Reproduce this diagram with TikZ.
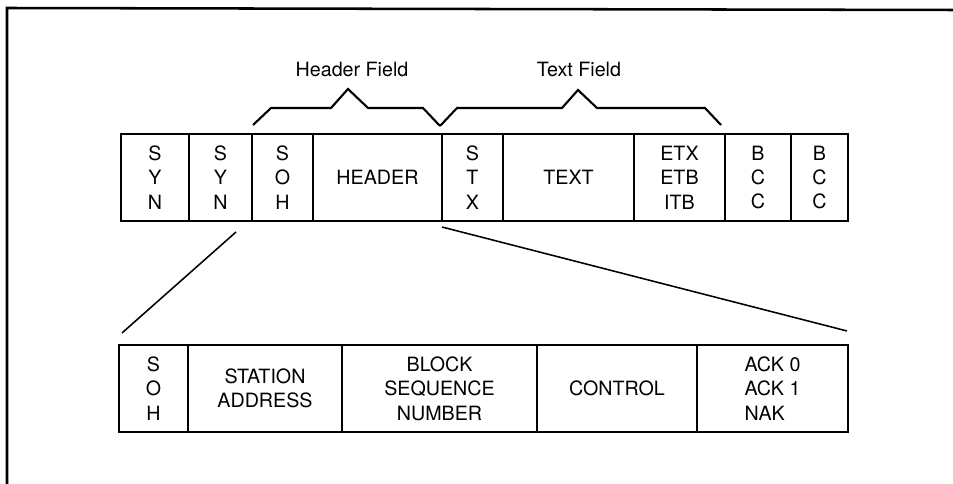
\documentclass[tikz,border=0pt]{standalone}
\usepackage{fontspec}
\setmainfont{TeX Gyre Heros}
\tikzset{
  cell/.style={draw, line width=1.3pt, inner sep=0pt, outer sep=0pt,
    minimum height=2.175cm, align=center,
    font=\fontsize{14}{17.4}\selectfont},
  fieldlabel/.style={font=\fontsize{14}{17.4}\selectfont},
  brace/.style={line width=1.5pt, line join=miter},
  zoomline/.style={line width=1.1pt},
}
\begin{document}
\begin{tikzpicture}[x=0.025cm, y=-0.025cm]
    \useasboundingbox (0,0) rectangle (953,484);
    % frame (open at right and bottom)
    \draw[line width=1.8pt] (7,484) -- (7,8) -- (953,10);

    % upper frame
    \node[cell, minimum width=1.7cm]   (syn1) at (155,177.5)   {S\\Y\\N};
    \node[cell, minimum width=1.575cm] (syn2) at (220.5,177.5) {S\\Y\\N};
    \node[cell, minimum width=1.525cm] (soh)  at (282.5,177.5) {S\\O\\H};
    \node[cell, minimum width=3.225cm] (hdr)  at (377.5,177.5) {HEADER};
    \node[cell, minimum width=1.525cm] (stx)  at (472.5,177.5) {S\\T\\X};
    \node[cell, minimum width=3.275cm] (txt)  at (568.5,177.5) {TEXT};
    \node[cell, minimum width=2.275cm] (etx)  at (679.5,177.5) {ETX\\ETB\\ITB};
    \node[cell, minimum width=1.65cm]  (bcc1) at (758,177.5)   {B\\C\\C};
    \node[cell, minimum width=1.425cm] (bcc2) at (819.5,177.5) {B\\C\\C};

    % braces over the fields
    \draw[brace] (253,125) -- (271,108) -- (331,108) -- (348,89)
        -- (368,108) -- (423,108) -- (440,126);
    \draw[brace] (440,126) -- (457,108) -- (562,108) -- (578,90)
        -- (597,108) -- (705,108) -- (721,125);
    \node[fieldlabel] (hfield) at (352,69) {Header Field};
    \node[fieldlabel] (tfield) at (579,69) {Text Field};

    % expanded header
    \node[cell, minimum width=1.725cm] (lsoh) at (153.5,388.5) {S\\O\\H};
    \node[cell, minimum width=3.85cm]  (addr) at (265,388.5)   {STATION\\ADDRESS};
    \node[cell, minimum width=4.875cm] (bsn)  at (439.5,388.5) {BLOCK\\SEQUENCE\\NUMBER};
    \node[cell, minimum width=4.0cm]   (ctl)  at (617,388.5)   {CONTROL};
    \node[cell, minimum width=3.775cm, align=left] (lack) at (772.5,388.5) {ACK 0\\ACK 1\\NAK};

    \draw[zoomline] ([shift={(15.5,11)}]syn2.south) -- ([shift={(3,-12)}]lsoh.north west);
    \draw[zoomline] ([shift={(0,6)}]hdr.south east) -- ([shift={(-1,-14)}]lack.north east);
\end{tikzpicture}
\end{document}
